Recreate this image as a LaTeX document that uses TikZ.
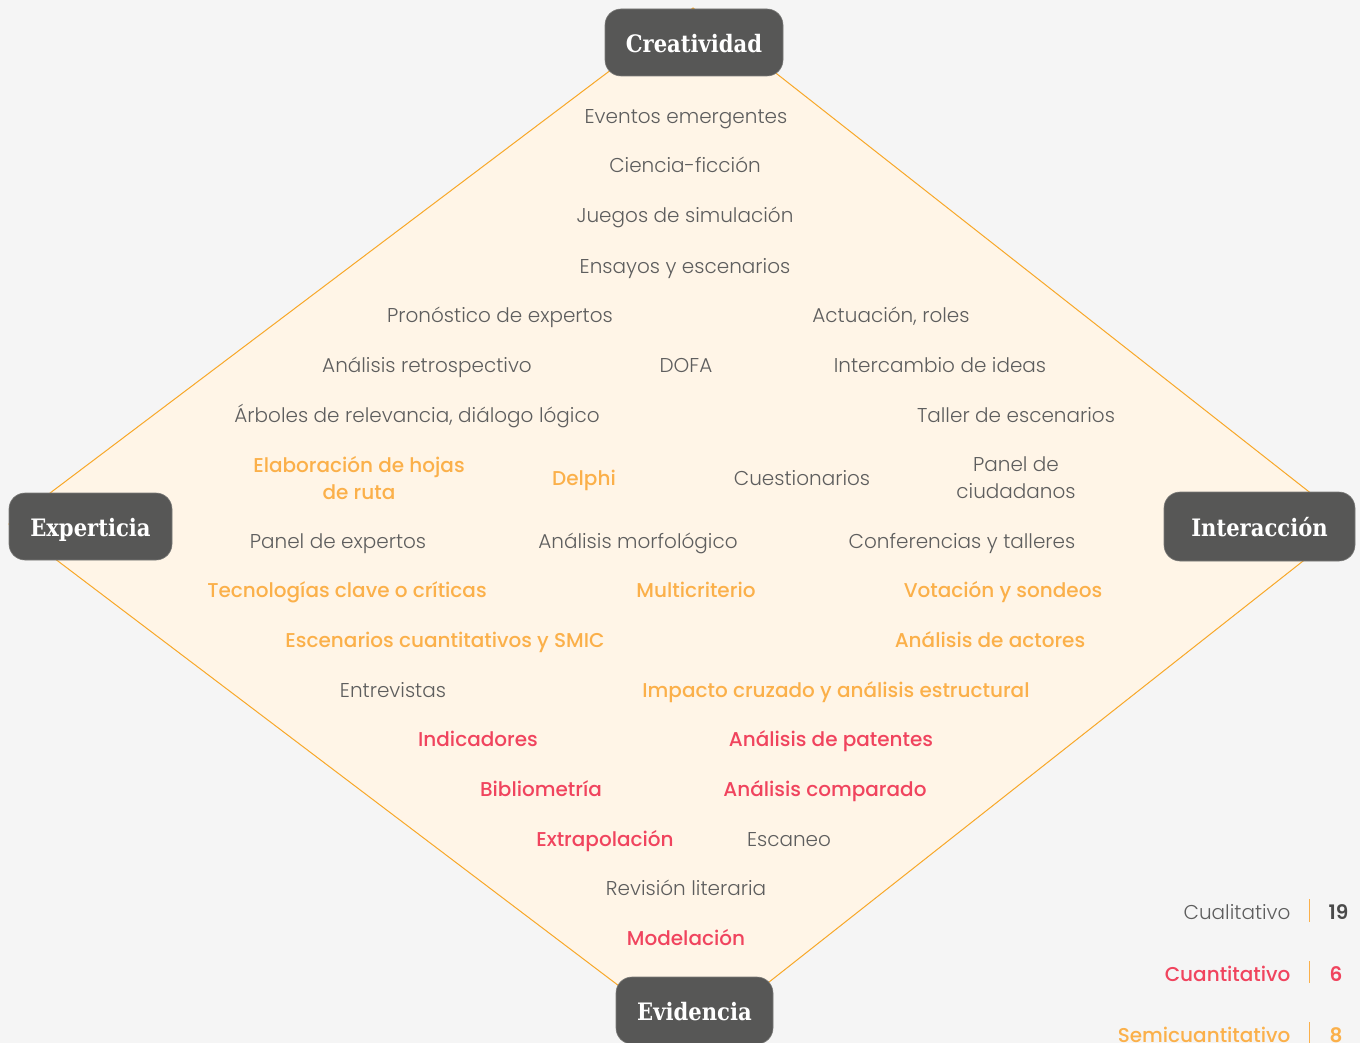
\documentclass[tikz,border=0pt]{standalone}
\usepackage{fontspec}
\setmainfont{Poppins}[UprightFont=*-Light, BoldFont=*-Medium]
\newfontfamily\numfont{Poppins}[UprightFont=*-SemiBold]
\newfontfamily\boxfont{DejaVu Serif}[FakeStretch=0.88]

\definecolor{pagebg}{HTML}{F5F5F5}
\definecolor{diamondfill}{HTML}{FFF5E7}
\definecolor{edgeorange}{HTML}{F8A829}
\definecolor{boxgray}{HTML}{575756}
\definecolor{boxedge}{HTML}{7A7A78}
\definecolor{qualgray}{HTML}{5E5E5E}
\definecolor{semiorange}{HTML}{FBB04A}
\definecolor{quantred}{HTML}{F0445E}
\definecolor{numgray}{HTML}{4A4A4A}

\begin{document}
\begin{tikzpicture}[x=1pt,y=-1pt,
  pillar/.style={draw=boxedge, line width=0.6pt, fill=boxgray, rounded corners=16pt,
    minimum height=67pt, inner sep=0pt, text=white, text height=20pt, text depth=0pt,
    font=\boxfont\bfseries\fontsize{24}{28}\selectfont},
  qual/.style={anchor=base, text=qualgray, align=center,
    font=\fontsize{20}{27}\selectfont},
  semi/.style={anchor=base, text=semiorange, align=center,
    font=\bfseries\fontsize{20}{27}\selectfont},
  quant/.style={anchor=base, text=quantred, align=center,
    font=\bfseries\fontsize{20}{27}\selectfont},
  legbar/.style={draw=semiorange, line width=1pt},
  legnum/.style={anchor=base west, font=\numfont\fontsize{20}{24}\selectfont}
]
% page and bounding box
\fill[pagebg] (0,0) rectangle (1360,1043);
\useasboundingbox (0,0) rectangle (1360,1043);

% the diamond
\coordinate (vt) at (693,8);
\coordinate (vr) at (1350,524);
\coordinate (vb) at (693,1042);
\coordinate (vl) at (9,524);
\filldraw[fill=diamondfill, draw=edgeorange, line width=1pt]
  (vt) -- (vr) -- (vb) -- (vl) -- cycle;

% corner labels
\node[pillar, minimum width=178pt] (creat) at (694,42.5) {Creatividad};
\node[pillar, minimum width=163pt] (expert) at (90.5,526.5) {Experticia};
\node[pillar, minimum width=191pt, minimum height=69pt] (inter) at (1259.5,526.5) {Interacción};
\node[pillar, minimum width=157pt] (evid) at (694.5,1010.5) {Evidencia};

% methods
\node[qual] (m1) at (686,124) {Eventos emergentes};
\node[qual] (m2) at (685,173) {Ciencia-ficción};
\node[qual] (m3) at (685,223) {Juegos de simulación};
\node[qual] (m4) at (685,273) {Ensayos y escenarios};
\node[qual] (m5) at (500,322) {Pronóstico de expertos};
\node[qual] (m6) at (891,322) {Actuación, roles};
\node[qual] (m7) at (427,372) {Análisis retrospectivo};
\node[qual] (m8) at (686,372) {DOFA};
\node[qual] (m9) at (940,372) {Intercambio de ideas};
\node[qual] (m10) at (417,422) {Árboles de relevancia, diálogo lógico};
\node[qual] (m11) at (1016,422) {Taller de escenarios};
\node[semi, anchor=center] (m12) at (359,478) {Elaboración de hojas\\de ruta};
\node[semi] (m13) at (584,485) {Delphi};
\node[qual] (m14) at (802,485) {Cuestionarios};
\node[qual, anchor=center] (m15) at (1016,478) {Panel de\\ciudadanos};
\node[qual] (m16) at (338,548) {Panel de expertos};
\node[qual] (m17) at (638,548) {Análisis morfológico};
\node[qual] (m18) at (962,548) {Conferencias y talleres};
\node[semi] (m19) at (347,597) {Tecnologías clave o críticas};
\node[semi] (m20) at (696,597) {Multicriterio};
\node[semi] (m21) at (1003,597) {Votación y sondeos};
\node[semi] (m22) at (445,647) {Escenarios cuantitativos y SMIC};
\node[semi] (m23) at (990,647) {Análisis de actores};
\node[qual] (m24) at (393,697) {Entrevistas};
\node[semi] (m25) at (836,697) {Impacto cruzado y análisis estructural};
\node[quant] (m26) at (478,746) {Indicadores};
\node[quant] (m27) at (831,746) {Análisis de patentes};
\node[quant] (m28) at (541,796) {Bibliometría};
\node[quant] (m29) at (825,796) {Análisis comparado};
\node[quant] (m30) at (605,846) {Extrapolación};
\node[qual] (m31) at (789,846) {Escaneo};
\node[qual] (m32) at (686,895) {Revisión literaria};
\node[quant] (m33) at (686,945) {Modelación};

% legend
\node[qual, anchor=base east] (lq) at (1294,919) {Cualitativo};
\node[quant, anchor=base east] (ln) at (1294,981) {Cuantitativo};
\node[semi, anchor=base east] (ls) at (1294,1042) {Semicuantitativo};
\draw[legbar] (1309,899) -- (1309,922);
\draw[legbar] (1309,961) -- (1309,983);
\draw[legbar] (1309,1022) -- (1309,1043);
\node[legnum, text=numgray] (nq) at (1325,919) {19};
\node[legnum, text=quantred] (nn) at (1326,981) {6};
\node[legnum, text=semiorange] (ns) at (1326,1042) {8};
\end{tikzpicture}
\end{document}
